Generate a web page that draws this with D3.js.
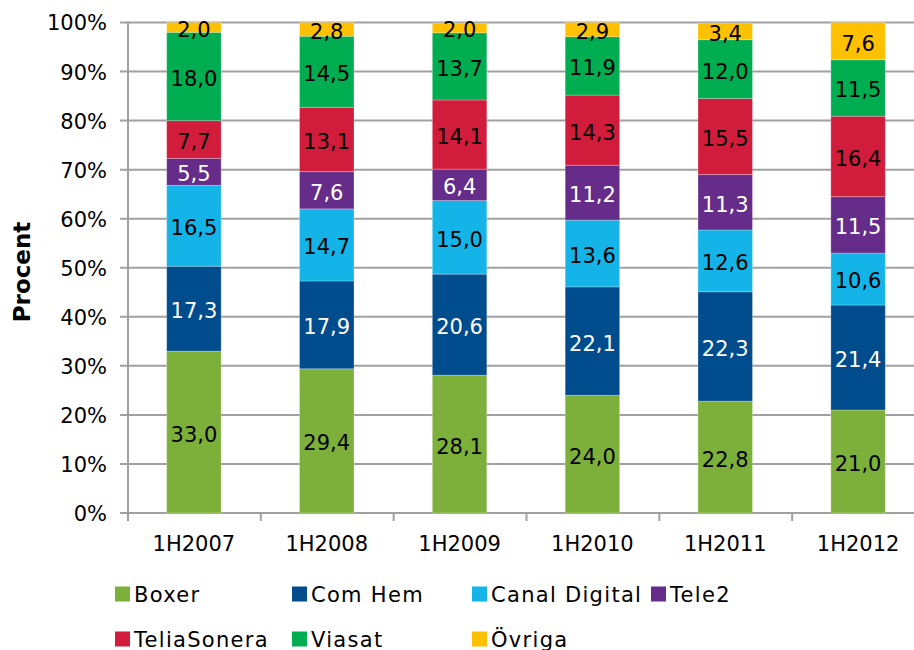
<!DOCTYPE html>
<html>
<head>
<meta charset="utf-8">
<script src="https://cdn.jsdelivr.net/npm/d3@7"></script>
<style>
  body { margin: 0; background: #fff; }
  text { font-family: 'DejaVu Sans', Verdana, sans-serif; }
</style>
</head>
<body>
<div id="chart"></div>
<script>
var periods = ['1H2007', '1H2008', '1H2009', '1H2010', '1H2011', '1H2012']
var operators = ['Boxer', 'Com Hem', 'Canal Digital', 'Tele2', 'TeliaSonera', 'Viasat', 'Övriga']

var boxer = [33.0, 29.4, 28.1, 24.0, 22.8, 21.0]
var comHem = [17.3, 17.9, 20.6, 22.1, 22.3, 21.4]
var canalDigital = [16.5, 14.7, 15.0, 13.6, 12.6, 10.6]
var tele2 = [5.5, 7.6, 6.4, 11.2, 11.3, 11.5]
var teliaSonera = [7.7, 13.1, 14.1, 14.3, 15.5, 16.4]
var viasat = [18.0, 14.5, 13.7, 11.9, 12.0, 11.5]
var ovriga = [2.0, 2.8, 2.0, 2.9, 3.4, 7.6]

var yTicks = [0, 10, 20, 30, 40, 50, 60, 70, 80, 90, 100]

var seriesValues = [boxer, comHem, canalDigital, tele2, teliaSonera, viasat, ovriga]
var colors = ['#7db03a', '#004c8c', '#14b4e8', '#652d89', '#d11c3c', '#00ad50', '#ffc000']
var labelColors = ['#000', '#fff', '#000', '#fff', '#000', '#000', '#000']

var width = 914
var height = 650

// build rows for d3.stack
var rows = periods.map(function(p, i) {
    var row = { period: p }
    operators.forEach(function(op, j) { row[op] = seriesValues[j][i] })
    return row
})

var stacked = d3.stack().keys(operators)(rows)

var x = d3.scaleBand()
    .domain(periods)
    .range([127.5, 924.5])
    .paddingInner(0.59)
    .paddingOuter(0.295)

var y = d3.scaleLinear()
    .domain([0, 100])
    .range([513, 22.5])

var svg = d3.select('#chart').append('svg')
    .attr('width', width)
    .attr('height', height)

// gridlines
svg.append('g')
    .selectAll('line')
    .data(yTicks)
    .enter().append('line')
    .attr('x1', 120)
    .attr('x2', width)
    .attr('y1', function(d) { return y(d) })
    .attr('y2', function(d) { return y(d) })
    .attr('stroke', '#a0a0a0')
    .attr('stroke-width', 2)

// y axis line
svg.append('line')
    .attr('x1', 128).attr('x2', 128)
    .attr('y1', y(100) - 1).attr('y2', y(0) + 1)
    .attr('stroke', '#a0a0a0')
    .attr('stroke-width', 2)

// x tick marks between categories
var step = x.step()
svg.append('g')
    .selectAll('line')
    .data(d3.range(periods.length + 1))
    .enter().append('line')
    .attr('x1', function(i) { return 128 + i * step })
    .attr('x2', function(i) { return 128 + i * step })
    .attr('y1', y(0))
    .attr('y2', y(0) + 8)
    .attr('stroke', '#a0a0a0')
    .attr('stroke-width', 2)

// y tick labels
svg.append('g')
    .selectAll('text')
    .data(yTicks)
    .enter().append('text')
    .attr('x', 107)
    .attr('y', function(d) { return y(d) })
    .attr('dy', '0.38em')
    .attr('text-anchor', 'end')
    .attr('font-size', 21)
    .attr('fill', '#000')
    .text(function(d) { return d + '%' })

// x labels
svg.append('g')
    .selectAll('text')
    .data(periods)
    .enter().append('text')
    .attr('x', function(d) { return x(d) + x.bandwidth() / 2 })
    .attr('y', 551)
    .attr('text-anchor', 'middle')
    .attr('font-size', 21)
    .attr('fill', '#000')
    .text(function(d) { return d })

// y axis title
svg.append('text')
    .attr('transform', 'translate(30,272) rotate(-90)')
    .attr('text-anchor', 'middle')
    .attr('font-size', 23)
    .attr('font-weight', 'bold')
    .attr('fill', '#000')
    .text('Procent')

// bars
var layers = svg.append('g')
    .selectAll('g')
    .data(stacked)
    .enter().append('g')
    .attr('fill', function(d, i) { return colors[i] })

layers.selectAll('rect')
    .data(function(d) { return d })
    .enter().append('rect')
    .attr('x', function(d) { return x(d.data.period) })
    .attr('width', x.bandwidth())
    .attr('y', function(d) { return y(d[1]) })
    .attr('height', function(d) { return y(d[0]) - y(d[1]) })
    .attr('stroke', 'rgba(255,255,255,0.25)')
    .attr('stroke-width', 1)

// value labels
stacked.forEach(function(layer, i) {
    svg.append('g')
        .selectAll('text')
        .data(layer)
        .enter().append('text')
        .attr('x', function(d) { return x(d.data.period) + x.bandwidth() / 2 })
        .attr('y', function(d) { return (y(d[0]) + y(d[1])) / 2 })
        .attr('dy', '0.45em')
        .attr('text-anchor', 'middle')
        .attr('font-size', 21)
        .attr('fill', labelColors[i])
        .text(function(d) { return (d[1] - d[0]).toFixed(1).replace('.', ',') })
})

// legend
var legendPos = [[115, 594], [292, 594], [472, 594], [651, 594], [115, 639], [292, 639], [472, 639]]
var legend = svg.append('g')
    .selectAll('g')
    .data(operators)
    .enter().append('g')
    .attr('transform', function(d, i) { return 'translate(' + legendPos[i][0] + ',' + legendPos[i][1] + ')' })

legend.append('rect')
    .attr('x', 0)
    .attr('y', -7.5)
    .attr('width', 15)
    .attr('height', 15)
    .attr('fill', function(d, i) { return colors[i] })

legend.append('text')
    .attr('x', 19)
    .attr('dy', '0.36em')
    .attr('font-size', 21)
    .attr('letter-spacing', 1.3)
    .attr('fill', '#000')
    .text(function(d) { return d })
</script>
</body>
</html>
